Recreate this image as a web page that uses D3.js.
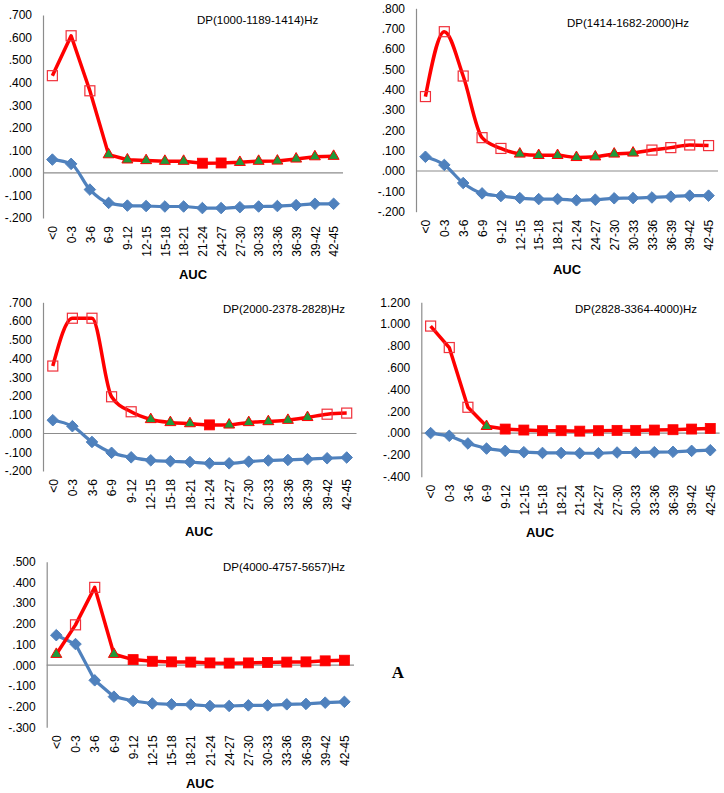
<!DOCTYPE html>
<html>
<head>
<meta charset="utf-8">
<script src="https://cdn.jsdelivr.net/npm/d3@7"></script>
<style>
  html, body { margin: 0; padding: 0; background: #fff; }
  svg { display: block; }
  text { font-family: "Liberation Sans", Arial, sans-serif; fill: #000; }
</style>
</head>
<body>
<svg id="chart" width="724" height="793"></svg>
<script>
// ---------- DATA ----------
const categories = ["<0","0-3","3-6","6-9","9-12","12-15","15-18","18-21","21-24","24-27","27-30","30-33","33-36","36-39","39-42","42-45"];

const titles = ["DP(1000-1189-1414)Hz","DP(1414-1682-2000)Hz","DP(2000-2378-2828)Hz","DP(2828-3364-4000)Hz","DP(4000-4757-5657)Hz"];

const yTicks1 = [-0.2,-0.1,0,0.1,0.2,0.3,0.4,0.5,0.6,0.7];
const yTicks2 = [-0.2,-0.1,0,0.1,0.2,0.3,0.4,0.5,0.6,0.7,0.8];
const yTicks3 = [-0.2,-0.1,0,0.1,0.2,0.3,0.4,0.5,0.6,0.7];
const yTicks4 = [-0.4,-0.2,0,0.2,0.4,0.6,0.8,1.0,1.2];
const yTicks5 = [-0.3,-0.2,-0.1,0,0.1,0.2,0.3,0.4,0.5];

// red series (upper), blue series (lower)
const red1  = [0.431,0.608,0.364,0.081,0.058,0.055,0.052,0.052,0.043,0.044,0.047,0.052,0.053,0.062,0.072,0.074];
const blue1 = [0.059,0.040,-0.074,-0.133,-0.145,-0.147,-0.149,-0.149,-0.156,-0.156,-0.152,-0.149,-0.147,-0.143,-0.137,-0.137];
const mark1 = ["o","o","o","t","t","t","t","t","f","f","t","t","t","t","t","t"];

const red2  = [0.366,0.685,0.467,0.164,0.111,0.084,0.077,0.077,0.067,0.070,0.084,0.089,0.103,0.115,0.128,0.125];
const blue2 = [0.070,0.030,-0.059,-0.110,-0.123,-0.133,-0.138,-0.138,-0.144,-0.141,-0.134,-0.133,-0.130,-0.126,-0.121,-0.121];
const mark2 = ["o","o","o","o","o","t","t","t","t","t","t","t","o","o","o","o"];

const red3  = [0.360,0.615,0.615,0.196,0.116,0.075,0.059,0.053,0.046,0.046,0.059,0.064,0.071,0.086,0.103,0.109];
const blue3 = [0.071,0.039,-0.045,-0.103,-0.127,-0.143,-0.148,-0.152,-0.159,-0.159,-0.150,-0.144,-0.141,-0.137,-0.132,-0.128];
const mark3 = ["o","o","o","o","o","t","t","t","f","t","t","t","t","t","o","o"];

const red4  = [0.982,0.785,0.237,0.062,0.037,0.028,0.022,0.022,0.018,0.022,0.025,0.025,0.028,0.031,0.037,0.043];
const blue4 = [0.000,-0.025,-0.095,-0.142,-0.163,-0.175,-0.182,-0.182,-0.185,-0.185,-0.178,-0.178,-0.175,-0.172,-0.163,-0.157];
const mark4 = ["o","o","o","t","f","f","f","f","f","f","f","f","f","f","f","f"];

const red5  = [0.053,0.195,0.376,0.053,0.027,0.019,0.016,0.015,0.011,0.010,0.011,0.013,0.015,0.016,0.021,0.024];
const blue5 = [0.145,0.102,-0.073,-0.152,-0.173,-0.185,-0.189,-0.190,-0.197,-0.197,-0.194,-0.194,-0.189,-0.187,-0.181,-0.177];
const mark5 = ["t","o","o","t","f","f","f","f","f","f","f","f","f","f","f","f"];

const axisTitle = "AUC";
const panelLetter = "A";

// ---------- LAYOUT ----------
const panels = [
  {red: red1, blue: blue1, mark: mark1, ticks: yTicks1, title: titles[0], x0: 43,    x1: 343,   yTop: 15,    yBot: 218,   redSmooth: false, blueSmooth: true,  tx: 197, ty: 24,    ax: 193, ay: 279},
  {red: red2, blue: blue2, mark: mark2, ticks: yTicks2, title: titles[1], x0: 416,   x1: 718,   yTop: 8.3,   yBot: 211.7, redSmooth: true,  blueSmooth: true,  tx: 567, ty: 27,    ax: 567, ay: 274},
  {red: red3, blue: blue3, mark: mark3, ticks: yTicks3, title: titles[2], x0: 43,    x1: 356.5, yTop: 302.3, yBot: 471,   redSmooth: true,  blueSmooth: true,  tx: 223, ty: 312.5, ax: 199, ay: 536},
  {red: red4, blue: blue4, mark: mark4, ticks: yTicks4, title: titles[3], x0: 421.3, x1: 719.6, yTop: 302.3, yBot: 476.7, redSmooth: false, blueSmooth: false, tx: 575, ty: 313,   ax: 540, ay: 537},
  {red: red5, blue: blue5, mark: mark5, ticks: yTicks5, title: titles[4], x0: 46.7,  x1: 354,   yTop: 561.7, yBot: 727.3, redSmooth: false, blueSmooth: false, tx: 223, ty: 570.5, ax: 200, ay: 788}
];

const svg = d3.select("#chart");
svg.append("rect").attr("width", 724).attr("height", 793).attr("fill", "#fff");

const fmt = v => {
  const s = Math.abs(v).toFixed(3);
  const t = s.startsWith("0") ? s.slice(1) : s;
  return (v < -1e-9 ? "-" : "") + t;
};

const RED = "#ff0000", BLUE = "#4f81bd", GREEN = "#1f9a3a", AXIS = "#8c8c8c";

panels.forEach(p => {
  const g = svg.append("g");
  const x = d3.scalePoint().domain(categories).range([p.x0, p.x1]).padding(0.5);
  const y = d3.scaleLinear().domain([p.ticks[0], p.ticks[p.ticks.length - 1]]).range([p.yBot, p.yTop]);

  // y axis
  const yAxis = d3.axisLeft(y).tickValues(p.ticks).tickFormat(fmt).tickSize(0).tickPadding(11);
  const ya = g.append("g").attr("transform", `translate(${p.x0},0)`).call(yAxis);
  ya.select(".domain").attr("stroke", AXIS).attr("stroke-width", 1.2);
  ya.selectAll("text").style("font-family", "Liberation Sans, Arial, sans-serif").style("font-size", "12px").attr("fill", "#000");

  // zero line
  g.append("line").attr("x1", p.x0).attr("x2", p.x1).attr("y1", y(0)).attr("y2", y(0))
    .attr("stroke", AXIS).attr("stroke-width", 1.2);

  // x labels (rotated)
  const xAxis = d3.axisBottom(x).tickSize(0).tickPadding(0);
  const xa = g.append("g").attr("transform", `translate(0,${p.yBot})`).call(xAxis);
  xa.select(".domain").remove();
  xa.selectAll("text")
    .style("font-family", "Liberation Sans, Arial, sans-serif").style("font-size", "12px").attr("fill", "#000")
    .attr("text-anchor", "end")
    .attr("transform", "rotate(-90)")
    .attr("x", -8).attr("y", 0).attr("dy", "0.35em");

  const lineFor = smooth => d3.line().x((d, i) => x(categories[i])).y(d => y(d))
    .curve(smooth ? d3.curveMonotoneX : d3.curveLinear);

  // blue series
  g.append("path").datum(p.blue).attr("d", lineFor(p.blueSmooth)).attr("fill", "none")
    .attr("stroke", BLUE).attr("stroke-width", 3.2).attr("stroke-linejoin", "round");
  g.selectAll(".dia").data(p.blue).enter().append("path")
    .attr("d", d3.symbol().type(d3.symbolDiamond2).size(85))
    .attr("transform", (d, i) => `translate(${x(categories[i])},${y(d)})`)
    .attr("fill", BLUE).attr("stroke", BLUE).attr("stroke-width", 1);

  // red series
  g.append("path").datum(p.red).attr("d", lineFor(p.redSmooth)).attr("fill", "none")
    .attr("stroke", RED).attr("stroke-width", 3.5).attr("stroke-linejoin", "round");
  p.red.forEach((d, i) => {
    const cx = x(categories[i]), cy = y(d), m = p.mark[i];
    if (m === "o") {
      g.append("rect").attr("x", cx - 5).attr("y", cy - 5).attr("width", 10).attr("height", 10)
        .attr("fill", "none").attr("stroke", "#f0303a").attr("stroke-width", 1.2);
    } else if (m === "f") {
      g.append("rect").attr("x", cx - 5).attr("y", cy - 5).attr("width", 10).attr("height", 10)
        .attr("fill", RED).attr("stroke", RED).attr("stroke-width", 0.8);
    } else {
      g.append("path").attr("d", d3.symbol().type(d3.symbolTriangle).size(52))
        .attr("transform", `translate(${cx},${cy})`)
        .attr("fill", GREEN).attr("stroke", RED).attr("stroke-width", 1);
    }
  });

  // panel title
  g.append("text").attr("x", p.tx).attr("y", p.ty).attr("font-size", "11.5px").text(p.title);
  // axis title
  g.append("text").attr("x", p.ax).attr("y", p.ay).attr("text-anchor", "middle")
    .attr("font-size", "13px").attr("font-weight", "bold").text(axisTitle);
});

svg.append("text").attr("x", 398).attr("y", 678).attr("text-anchor", "middle")
  .style("font-family", "Liberation Serif, Times New Roman, serif").attr("font-size", "17px")
  .attr("font-weight", "bold").text(panelLetter);
</script>
</body>
</html>
